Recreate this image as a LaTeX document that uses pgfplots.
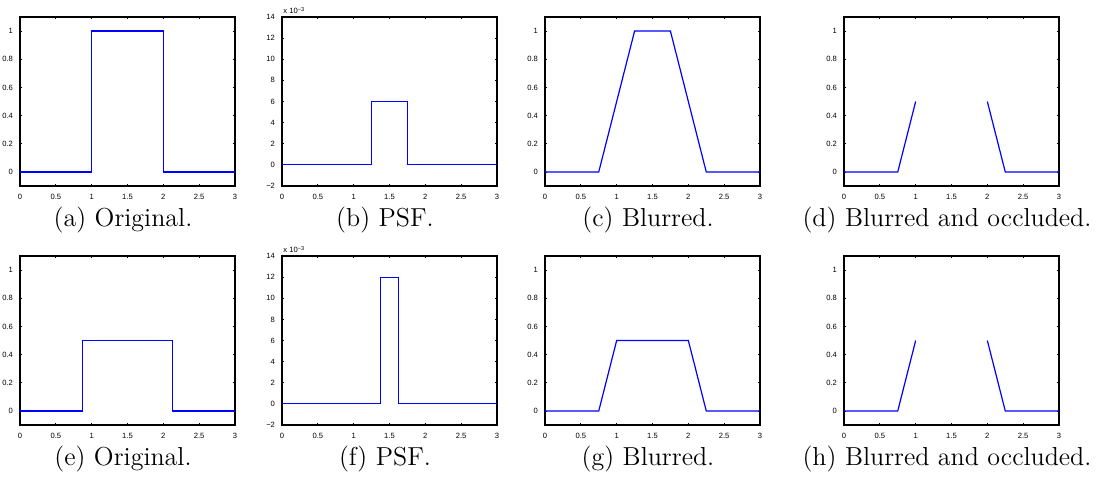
\documentclass[border=0pt]{standalone}
\usepackage{fontspec}
\usepackage{pgfplots}
\pgfplotsset{compat=1.18}
\newfontfamily\ticksf{Liberation Sans}
\newcommand{\tickfont}{\ticksf\fontsize{3.8}{4.2}\selectfont}
\newcommand{\capfont}{\fontsize{13}{15}\selectfont}

% MATLAB-like look for every panel
\pgfplotsset{
  mat/.style={
    scale only axis, width=107.5pt, height=84.5pt,
    anchor=north west,
    xmin=0, xmax=3,
    axis line style={black, line width=0.6pt},
    tick align=inside, tick pos=both,
    major tick length=1.2pt,
    every tick/.style={black, line width=0.4pt},
    scaled ticks=false,
    /pgf/number format/assume math mode=true,
    tick label style={font=\tickfont},
    xticklabel style={yshift=-0.6pt},
    xtick={0,0.5,1,1.5,2,2.5,3},
    xticklabels={0,0.5,1,1.5,2,2.5,3},
  },
  unit/.style={mat,
    ymin=-0.1, ymax=1.1,
    ytick={0,0.2,0.4,0.6,0.8,1},
    yticklabels={0,0.2,0.4,0.6,0.8,1},
  },
  psf/.style={mat,
    ymin=-0.002, ymax=0.014,
    ytick={-0.002,0,0.002,0.004,0.006,0.008,0.010,0.012,0.014},
    yticklabels={−2,0,2,4,6,8,10,12,14},
    after end axis/.code={
      \node[anchor=south west, inner sep=0pt, font=\tickfont]
        at (rel axis cs:0,1) [yshift=1.6pt, xshift=0.5pt]
        {x 10\raisebox{0.55ex}{\fontsize{2.8}{3}\selectfont −3}};
    },
  },
  sig/.style={blue, line width=0.6pt, sharp plot},
}

\begin{document}
\begin{tikzpicture}
\useasboundingbox (0,0) rectangle (550.5pt,-238.5pt);

% ---- row 1 ----
\begin{axis}[unit, at={(10pt,-8.5pt)}]
\addplot[sig] coordinates {(0,0) (1,0) (1,1) (2,1) (2,0) (3,0)};
\end{axis}
\begin{axis}[psf, at={(141pt,-8.5pt)}]
\addplot[sig] coordinates {(0,0) (1.25,0) (1.25,0.006) (1.75,0.006) (1.75,0) (3,0)};
\end{axis}
\begin{axis}[unit, at={(272.5pt,-8.5pt)}]
\addplot[sig] coordinates {(0,0) (0.75,0) (1.25,1) (1.75,1) (2.25,0) (3,0)};
\end{axis}
\begin{axis}[unit, at={(422pt,-8.5pt)}]
\addplot[sig] coordinates {(0,0) (0.75,0) (1,0.5)};
\addplot[sig] coordinates {(2,0.5) (2.25,0) (3,0)};
\end{axis}

% ---- row 2 ----
\begin{axis}[unit, at={(10pt,-128pt)}]
\addplot[sig] coordinates {(0,0) (0.875,0) (0.875,0.5) (2.125,0.5) (2.125,0) (3,0)};
\end{axis}
\begin{axis}[psf, at={(141pt,-128pt)}]
\addplot[sig] coordinates {(0,0) (1.375,0) (1.375,0.012) (1.625,0.012) (1.625,0) (3,0)};
\end{axis}
\begin{axis}[unit, at={(272.5pt,-128pt)}]
\addplot[sig] coordinates {(0,0) (0.75,0) (1,0.5) (2,0.5) (2.25,0) (3,0)};
\end{axis}
\begin{axis}[unit, at={(422pt,-128pt)}]
\addplot[sig] coordinates {(0,0) (0.75,0) (1,0.5)};
\addplot[sig] coordinates {(2,0.5) (2.25,0) (3,0)};
\end{axis}

% ---- captions ----
\begin{scope}[every node/.style={anchor=base, inner sep=0pt, font=\capfont}]
\node at (61.5pt,-113pt) {(a) Original.};
\node at (192.5pt,-113pt) {(b) PSF.};
\node at (324pt,-113pt) {(c) Blurred.};
\node at (473.5pt,-113pt) {(d) Blurred and occluded.};
\node at (61.5pt,-232.5pt) {(e) Original.};
\node at (192.5pt,-232.5pt) {(f) PSF.};
\node at (324pt,-232.5pt) {(g) Blurred.};
\node at (473.5pt,-232.5pt) {(h) Blurred and occluded.};
\end{scope}
\end{tikzpicture}
\end{document}
